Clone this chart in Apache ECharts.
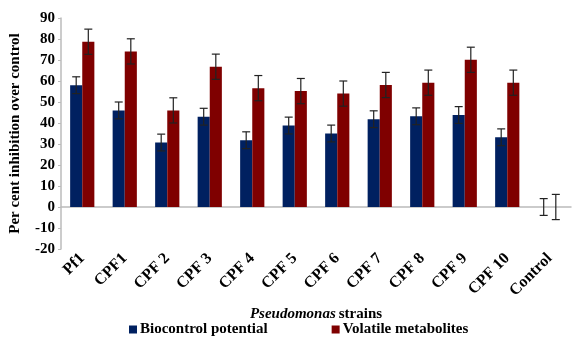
<!DOCTYPE html>
<html>
<head>
<meta charset="utf-8">
<script src="https://cdn.jsdelivr.net/npm/echarts@6/dist/echarts.min.js"></script>
<style>
  html, body { margin: 0; padding: 0; background: #fff; }
  #chart { width: 576px; height: 337px; }
</style>
</head>
<body>
<div id="chart"></div>
<script>
    const strains = ['Pf1', 'CPF1', 'CPF 2', 'CPF 3', 'CPF 4', 'CPF 5', 'CPF 6', 'CPF 7', 'CPF 8', 'CPF 9', 'CPF 10', 'Control'];
    const biocontrol = [58, 46, 30.7, 43, 31.8, 38.8, 35, 41.8, 43.2, 43.8, 33.2, 0];
    const volatile = [78.7, 74.1, 46, 66.8, 56.6, 55.2, 54, 58.1, 59.2, 70.1, 59.2, 0];
    const biocontrolErr = [4, 4, 4, 4, 4, 4, 4, 4, 4, 4, 4, 4];
    const volatileErr = [6, 6, 6, 6, 6, 6, 6, 6, 6, 6, 6, 6];

    const font = 'Liberation Serif';
    const gapPct = 0.43;

    const myChart = echarts.init(document.getElementById('chart'));

    // error bar series, side = -1 for left bar, +1 for right bar
    function errSeries(vals, errs, side) {
        return {
            type: 'custom',
            silent: true,
            z: 10,
            data: vals.map((v, i) => [i, v, errs[i]]),
            renderItem: function (params, api) {
                const i = api.value(0), v = api.value(1), e = api.value(2);
                const band = api.size([1, 0])[0];
                const barW = band * (1 - gapPct) / 2;
                const x = api.coord([i, v])[0] + side * barW / 2;
                const yHi = api.coord([i, v + e])[1];
                const yLo = api.coord([i, v - e])[1];
                const cap = 4;
                const style = {stroke: '#222', lineWidth: 1.2};
                return {
                    type: 'group',
                    children: [
                        {type: 'line', shape: {x1: x, y1: yHi, x2: x, y2: yLo}, style: style},
                        {type: 'line', shape: {x1: x - cap, y1: yHi, x2: x + cap, y2: yHi}, style: style},
                        {type: 'line', shape: {x1: x - cap, y1: yLo, x2: x + cap, y2: yLo}, style: style}
                    ]
                };
            }
        };
    }

    const option = {
        animation: false,
        textStyle: {fontFamily: font},
        grid: {
            left: 61,
            right: 5,
            top: 18,
            bottom: 88,
            containLabel: false,
            outerBoundsMode: 'none'
        },
        legend: {
            left: 124,
            top: 317,
            icon: 'rect',
            itemWidth: 8,
            itemHeight: 8,
            itemGap: 64,
            data: ['Biocontrol potential', 'Volatile metabolites'],
            textStyle: {fontFamily: font, fontWeight: 'bold', fontSize: 15, color: '#000', padding: [0, 0, 0, -2]}
        },
        xAxis: {
            type: 'category',
            data: strains,
            name: '{i|Pseudomonas} {b|strains}',
            nameLocation: 'middle',
            nameGap: 55,
            nameTextStyle: {
                rich: {
                    i: {fontFamily: font, fontStyle: 'italic', fontWeight: 'bold', fontSize: 15, color: '#000'},
                    b: {fontFamily: font, fontWeight: 'bold', fontSize: 15, color: '#000'}
                }
            },
            axisTick: {show: false},
            axisLine: {lineStyle: {color: '#bbb', width: 1.5}},
            axisLabel: {
                rotate: 45,
                interval: 0,
                margin: 7,
                color: '#000',
                fontFamily: font,
                fontWeight: 'bold',
                fontSize: 16
            }
        },
        yAxis: {
            type: 'value',
            min: -20,
            max: 90,
            interval: 10,
            name: 'Per cent inhibition over control',
            nameLocation: 'middle',
            nameRotate: 90,
            nameGap: 38,
            nameTextStyle: {fontFamily: font, fontWeight: 'bold', fontSize: 15, color: '#000'},
            splitLine: {show: false},
            axisLine: {show: true, lineStyle: {color: '#bbb', width: 1.5}},
            axisTick: {show: true, length: 3, lineStyle: {color: '#bbb'}},
            axisLabel: {
                color: '#000',
                fontFamily: font,
                fontWeight: 'bold',
                fontSize: 15,
                margin: 6
            }
        },
        series: [
            {
                name: 'Biocontrol potential',
                type: 'bar',
                data: biocontrol,
                barGap: '0%',
                barCategoryGap: (gapPct * 100) + '%',
                itemStyle: {color: '#002060'}
            },
            {
                name: 'Volatile metabolites',
                type: 'bar',
                data: volatile,
                barGap: '0%',
                barCategoryGap: (gapPct * 100) + '%',
                itemStyle: {color: '#7f0000'}
            },
            errSeries(biocontrol, biocontrolErr, -1),
            errSeries(volatile, volatileErr, 1)
        ]
    };
    myChart.setOption(option);
</script>
</body>
</html>
